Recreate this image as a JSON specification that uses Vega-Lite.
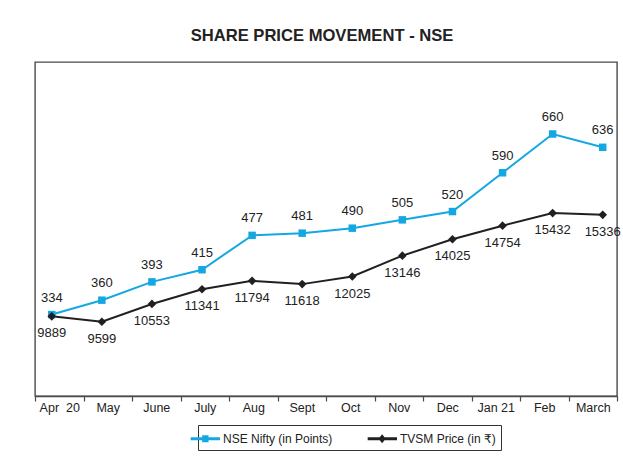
{
  "$schema": "https://vega.github.io/schema/vega-lite/v6.json",
  "width": 582,
  "height": 334,
  "autosize": {"type": "none"},
  "padding": {"left": 35, "top": 62, "right": 6, "bottom": 75},
  "background": "white",
  "config": {
    "font": "Liberation Sans, Arial, DejaVu Sans, sans-serif",
    "view": {"stroke": "#4a4a4a", "strokeWidth": 1.4}
  },
  "title": {
    "text": "SHARE PRICE MOVEMENT - NSE",
    "fontSize": 16.6,
    "fontWeight": "bold",
    "color": "#222222",
    "anchor": "middle",
    "baseline": "alphabetic",
    "offset": 4,
    "dx": -4
  },
  "data": {
    "values": [
      {"month": "Apr \u00a020", "nifty": 334, "tvsm": 9889},
      {"month": "May", "nifty": 360, "tvsm": 9599},
      {"month": "June", "nifty": 393, "tvsm": 10553},
      {"month": "July", "nifty": 415, "tvsm": 11341},
      {"month": "Aug", "nifty": 477, "tvsm": 11794},
      {"month": "Sept", "nifty": 481, "tvsm": 11618},
      {"month": "Oct", "nifty": 490, "tvsm": 12025},
      {"month": "Nov", "nifty": 505, "tvsm": 13146},
      {"month": "Dec", "nifty": 520, "tvsm": 14025},
      {"month": "Jan 21", "nifty": 590, "tvsm": 14754},
      {"month": "Feb", "nifty": 660, "tvsm": 15432},
      {"month": "March", "nifty": 636, "tvsm": 15336}
    ]
  },
  "layer": [
    {
      "mark": {"type": "tick", "opacity": 0},
      "encoding": {
        "x": {
          "field": "month", "type": "ordinal", "sort": null,
          "scale": {"type": "band", "paddingInner": 0, "paddingOuter": 0},
          "axis": {
            "title": null, "tickBand": "extent", "labelAngle": 0,
            "labelFontSize": 12.5, "labelColor": "#222222",
            "labelBaseline": "alphabetic", "labelPadding": 10,
            "tickColor": "#4a4a4a", "tickSize": 5, "tickWidth": 1.2,
            "domainColor": "#4a4a4a", "domainWidth": 1.4, "grid": false
          }
        }
      }
    },
    {
      "mark": {"type": "line", "strokeWidth": 2},
      "encoding": {
        "x": {"field": "month", "type": "ordinal", "sort": null, "scale": {"type": "point", "padding": 0.31, "align": 0.54}, "axis": null},
        "y": {"field": "nifty", "type": "quantitative", "scale": {"domain": [187, 790], "nice": false, "zero": false}, "axis": null},
        "color": {
          "datum": "NSE Nifty (in Points)", "type": "nominal",
          "scale": {"domain": ["NSE Nifty (in Points)", "TVSM Price (in \u20b9)"], "range": ["#14A8E3", "#231F20"]},
          "legend": {
            "title": null, "orient": "none", "legendX": 163, "legendY": 363,
            "direction": "horizontal", "columns": 2,
            "strokeColor": "#333333", "padding": 5,
            "labelFontSize": 12, "labelColor": "#222222", "labelOffset": 3,
            "symbolSize": 289, "columnPadding": 34,
            "encode": {
              "symbols": {
                "update": {
                  "shape": {"signal": "datum.value == 'NSE Nifty (in Points)' ? 'M-2.45,-0.17H1V0.17H-2.45Z M-1.1,-0.4H-0.35V0.4H-1.1Z' : 'M-2.45,-0.19H1V0.19H-2.45Z M-0.75,-0.52L-0.33,0L-0.75,0.52L-1.17,0Z'"},
                  "fill": {"signal": "datum.value == 'NSE Nifty (in Points)' ? '#14A8E3' : '#231F20'"},
                  "stroke": {"value": "transparent"},
                  "strokeWidth": {"value": 0},
                  "opacity": {"value": 1}
                }
              }
            }
          }
        }
      }
    },
    {
      "mark": {"type": "line", "strokeWidth": 2},
      "encoding": {
        "x": {"field": "month", "type": "ordinal", "sort": null, "scale": {"type": "point", "padding": 0.31, "align": 0.54}, "axis": null},
        "y": {"field": "tvsm", "type": "quantitative", "scale": {"domain": [5611, 23543], "nice": false, "zero": false}, "axis": null},
        "color": {"datum": "TVSM Price (in \u20b9)", "type": "nominal"}
      }
    },
    {
      "mark": {"type": "point", "shape": "square", "filled": true, "size": 56, "color": "#14A8E3", "opacity": 1},
      "encoding": {
        "x": {"field": "month", "type": "ordinal", "sort": null, "scale": {"type": "point", "padding": 0.31, "align": 0.54}, "axis": null},
        "y": {"field": "nifty", "type": "quantitative", "scale": {"domain": [187, 790], "nice": false, "zero": false}, "axis": null}
      }
    },
    {
      "mark": {"type": "point", "shape": "diamond", "filled": true, "size": 75, "color": "#231F20", "opacity": 1},
      "encoding": {
        "x": {"field": "month", "type": "ordinal", "sort": null, "scale": {"type": "point", "padding": 0.31, "align": 0.54}, "axis": null},
        "y": {"field": "tvsm", "type": "quantitative", "scale": {"domain": [5611, 23543], "nice": false, "zero": false}, "axis": null}
      }
    },
    {
      "mark": {"type": "text", "dy": -17, "fontSize": 13, "color": "#222222"},
      "encoding": {
        "x": {"field": "month", "type": "ordinal", "sort": null, "scale": {"type": "point", "padding": 0.31, "align": 0.54}, "axis": null},
        "y": {"field": "nifty", "type": "quantitative", "scale": {"domain": [187, 790], "nice": false, "zero": false}, "axis": null},
        "text": {"field": "nifty", "type": "quantitative"}
      }
    },
    {
      "mark": {"type": "text", "dy": 17, "fontSize": 13, "color": "#222222"},
      "encoding": {
        "x": {"field": "month", "type": "ordinal", "sort": null, "scale": {"type": "point", "padding": 0.31, "align": 0.54}, "axis": null},
        "y": {"field": "tvsm", "type": "quantitative", "scale": {"domain": [5611, 23543], "nice": false, "zero": false}, "axis": null},
        "text": {"field": "tvsm", "type": "quantitative", "format": "d"}
      }
    }
  ],
  "resolve": {"scale": {"x": "independent", "y": "independent"}}
}
